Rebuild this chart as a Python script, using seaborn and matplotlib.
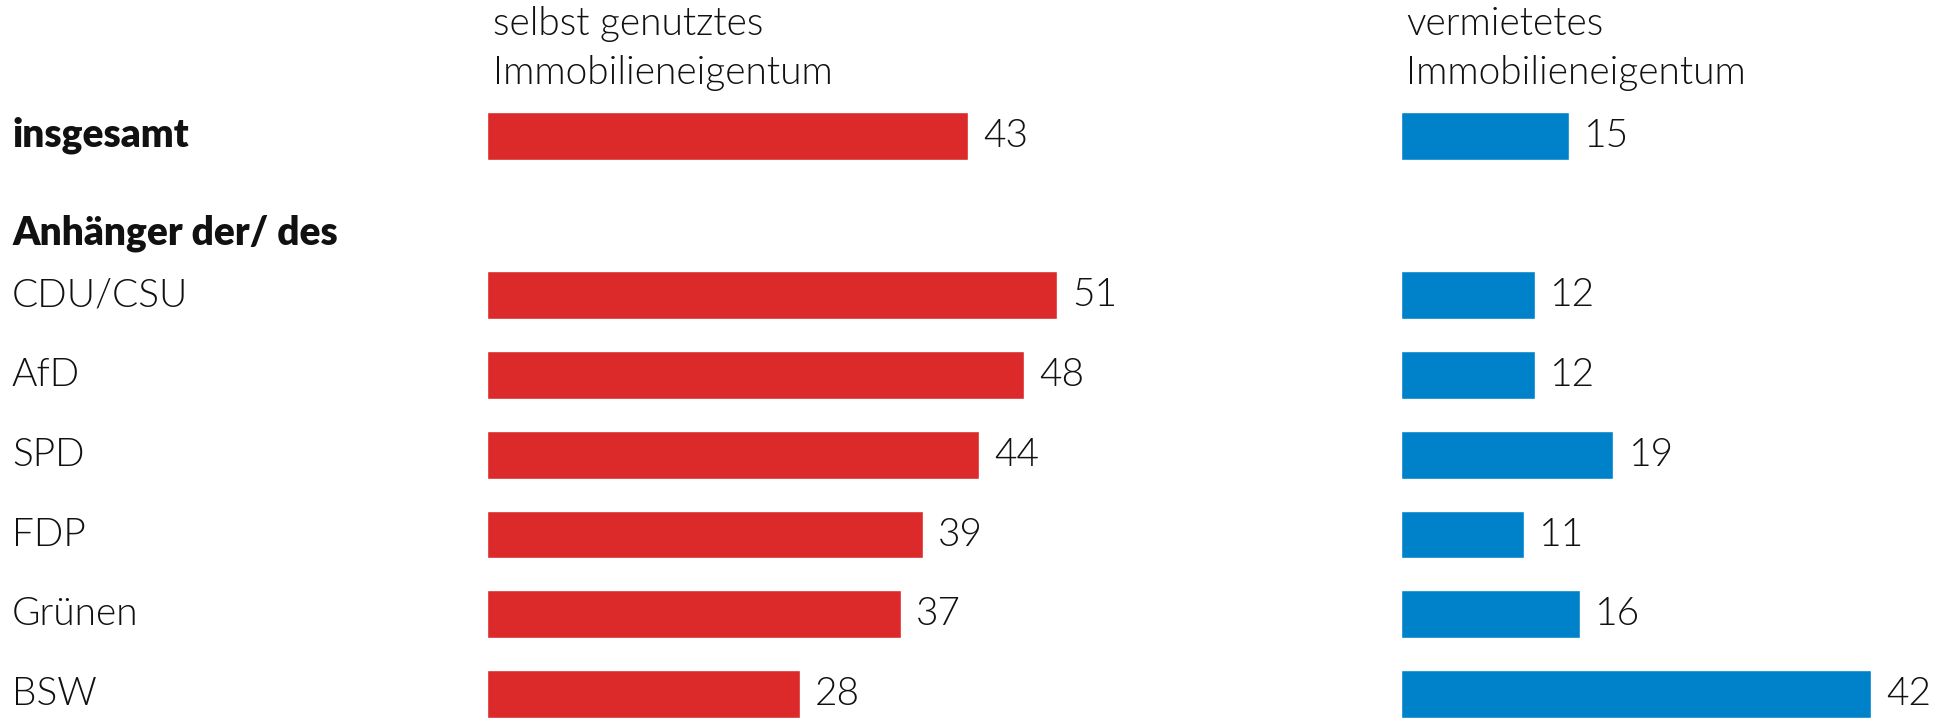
import matplotlib
matplotlib.use('Agg')
import matplotlib.pyplot as plt
import matplotlib.transforms as mtransforms
import seaborn as sns
import pandas as pd

# 데이터
kategorien = ['insgesamt', 'Anhänger der/ des', 'CDU/CSU', 'AfD', 'SPD', 'FDP', 'Grünen', 'BSW']
selbst_genutzt = [43, None, 51, 48, 44, 39, 37, 28]
vermietet = [15, None, 12, 12, 19, 11, 16, 42]
fett = ['insgesamt', 'Anhänger der/ des']
titel_links = 'selbst genutztes\nImmobilieneigentum'
titel_rechts = 'vermietetes\nImmobilieneigentum'

rot = '#dc292a'
blau = '#0082ca'
schrift = '#111111'

sns.set_style('white')
plt.rcParams['font.family'] = ['Lato', 'DejaVu Sans']

df = pd.DataFrame({'kategorie': kategorien, 'selbst': selbst_genutzt, 'vermietet': vermietet})
df_bars = df.dropna()

W, H = 1934, 718
fig = plt.figure(figsize=(W / 100, H / 100), dpi=100)
px = 11.18  # Pixel pro Prozentpunkt

ax1 = fig.add_axes([487 / W, 0, 60 * px / W, 1])
ax2 = fig.add_axes([1401 / W, 0, (W - 1401) / W, 1])

for ax, col, farbe, xmax in [(ax1, 'selbst', rot, 60), (ax2, 'vermietet', blau, (W - 1401) / px)]:
    sns.barplot(data=df_bars, x=col, y='kategorie', order=kategorien, color=farbe,
                saturation=1, width=0.6, orient='h', ax=ax, errorbar=None)
    ax.set_xlim(0, xmax)
    ax.set_ylim(7.3, -1.7)
    ax.axis('off')
    for i, v in enumerate(df[col]):
        if pd.notna(v):
            ax.annotate(f'{int(v)}', xy=(v, i), xytext=(11, 0), textcoords='offset points',
                        va='center', ha='left', fontsize=28, fontweight=300, color=schrift)

# Zeilenbeschriftungen links
tr = mtransforms.blended_transform_factory(fig.transFigure, ax1.transData)
for i, k in enumerate(kategorien):
    y = i + 0.22 if k == 'Anhänger der/ des' else i
    fig.text(12 / W, y, k, transform=tr, va='center', ha='left', fontsize=28,
             fontweight='heavy' if k in fett else 300, color=schrift)

fig.text(493 / W, 1 - 6 / H, titel_links, va='top', ha='left', fontsize=28,
         linespacing=1.45, fontweight=300, color=schrift)
fig.text(1406 / W, 1 - 6 / H, titel_rechts, va='top', ha='left', fontsize=28,
         linespacing=1.45, fontweight=300, color=schrift)

fig.savefig('out.png', dpi=100)
